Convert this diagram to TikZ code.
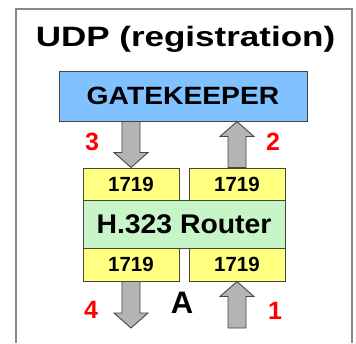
\documentclass[tikz,border=0pt]{standalone}
\usepackage{fontspec}
\setmainfont{Liberation Sans}
\usepackage{graphicx}
\usetikzlibrary{calc}
\definecolor{gkblue}{RGB}{128,194,255}
\definecolor{portyellow}{RGB}{255,255,128}
\definecolor{routergreen}{RGB}{200,245,200}
\definecolor{boxedge}{RGB}{70,70,60}
\definecolor{arrowgray}{RGB}{180,180,180}
\definecolor{arrowedge}{RGB}{70,70,70}
\definecolor{framegray}{RGB}{136,136,136}
\definecolor{numred}{RGB}{255,0,0}
\newcommand\fatarrow[2]{%
  \path[fatarrowstyle] let \p1=(#1), \p2=(#2), \n1={sign(\y2-\y1)} in
    ({\x1-9pt},\y1) -- ({\x1-9pt},{\y2-\n1*15pt}) -- ({\x1-17pt},{\y2-\n1*15pt})
    -- (\x1,\y2) -- ({\x1+17pt},{\y2-\n1*15pt}) -- ({\x1+9pt},{\y2-\n1*15pt})
    -- ({\x1+9pt},\y1) -- cycle;}
\begin{document}
\begin{tikzpicture}[x=1pt,y=-1pt,
  box/.style={draw=boxedge,line width=1pt,inner sep=0pt,font=\bfseries},
  gkbox/.style={box,fill=gkblue,minimum width=248pt,minimum height=50pt},
  portbox/.style={box,fill=portyellow,minimum width=96pt,minimum height=32pt,font=\fontsize{20.5}{20.5}\bfseries},
  routerbox/.style={box,fill=routergreen,minimum width=202pt,minimum height=48pt},
  stepnum/.style={text=numred,font=\fontsize{25}{25}\bfseries,inner sep=0pt},
  fatarrowstyle/.style={fill=arrowgray,draw=arrowedge,line width=0.9pt,line join=miter}]
\useasboundingbox (0,0) rectangle (356,343);
\fill[white] (0,0) rectangle (356,343);
\draw[framegray,line width=2.5pt] (16,343) -- (16,9) -- (352,9) -- (352,343);
\node[inner sep=0pt,anchor=base] (title) at (185.5,46.5)
  {\fontsize{28}{28}\bfseries\scalebox{1.25}[1]{UDP (registration)}};
\node[gkbox] (gk) at (183,96) {\fontsize{25}{25}\bfseries\scalebox{1.13}[1]{GATEKEEPER}};
\node[routerbox] (router) at (184,224) {\fontsize{27}{27}\bfseries\scalebox{1.05}[1]{H.323 Router}};
\node[portbox] (pta) at (131,184) {1719};
\node[portbox] (ptb) at (237,184) {1719};
\node[portbox,minimum height=33pt] (pba) at (131,264.5) {1719};
\node[portbox,minimum height=33pt] (pbb) at (237,264.5) {1719};
\coordinate (out4) at (131,328);
\coordinate (in1) at (237,328);
\fatarrow{pta.center |- gk.south}{pta.north}
\fatarrow{ptb.north}{ptb.center |- gk.south}
\fatarrow{pba.south}{out4}
\fatarrow{in1}{pbb.south}
\node[stepnum] (n3) at (92,142) {3};
\node[stepnum] (n2) at (273,142) {2};
\node[stepnum] (n4) at (91,310) {4};
\node[stepnum] (n1) at (275,311) {1};
\node[inner sep=0pt,font=\fontsize{31}{31}\bfseries] (sideA) at (182,303) {A};
\end{tikzpicture}
\end{document}
